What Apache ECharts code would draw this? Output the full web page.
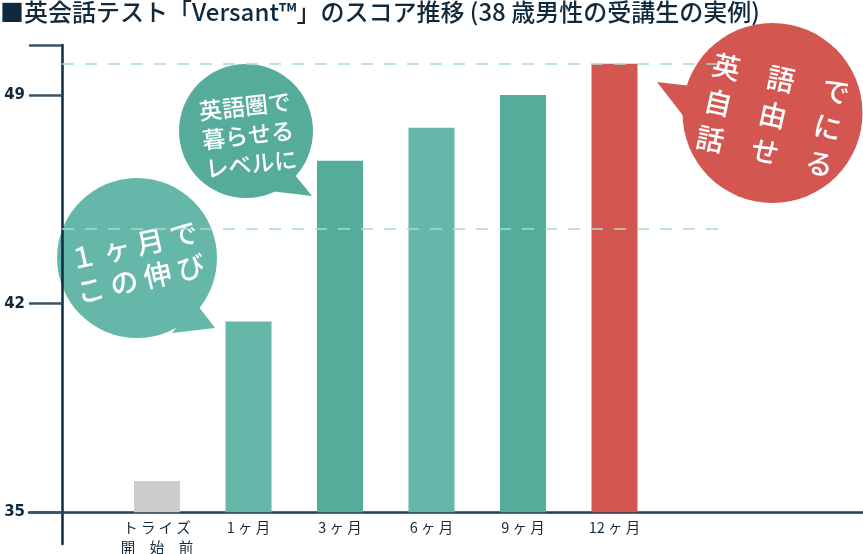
<!DOCTYPE html>
<html><head><meta charset="utf-8">
<script src="https://cdn.jsdelivr.net/npm/echarts@6/dist/echarts.min.js"></script>
<style>html,body{margin:0;padding:0;background:#fff}#c{width:863px;height:554px}</style>
</head><body><div id="c"></div>
<script>
const titleText = '■英会話テスト「Versant™」のスコア推移 (38 歳男性の受講生の実例)';
const categories = ['ト ラ イ ズ\n開　始　前', '1 ヶ 月', '3 ヶ 月', '6 ヶ 月', '9 ヶ 月', '12 ヶ 月'];
const scores = [36.05, 41.4, 46.8, 47.9, 49.0, 50.05];
const barColors = ['#cccccc', '#65b7a9', '#56ac9b', '#65b7a9', '#56ac9b', '#d45651'];
const yTicks = [35, 42, 49];
const refLines = [50.05, 44.5];
const bubble1Text = '１ ヶ 月 で\nこ の 伸 び';
const bubble2Text = '英語圏で\n暮らせる\nレベルに';
const bubble3Text = '英　語　で\n自　由　に\n話　せ　る';

const yMin = 35, yMax = 50.68, yInterval = 7;
const FONT = '"Noto Sans CJK JP", sans-serif';
const navy = '#0f2a3e';

const chart = echarts.init(document.getElementById('c'));
chart.setOption({
  animation: false,
  backgroundColor: '#fff',
  title: {
    text: titleText, left: 0, top: 0, padding: 0,
    textStyle: { fontSize: 24, color: navy, fontFamily: FONT, fontWeight: 500 }
  },
  grid: [
    { left: 111.25, right: 202.75, top: 45, bottom: 41.7, outerBoundsMode: 'none' },
    { left: 29, right: 0, top: 45, bottom: 41.7, outerBoundsMode: 'none' },
    { left: 62, right: 143, top: 45, bottom: 41.7, outerBoundsMode: 'none' },
    { left: 62, width: 10, top: 45, bottom: 10, outerBoundsMode: 'none' }
  ],
  xAxis: [
    { gridIndex: 0, type: 'category', data: categories,
      axisLine: { show: false }, axisTick: { show: false },
      axisLabel: { color: navy, fontSize: 14.5, fontFamily: FONT, margin: 5, lineHeight: 20, interval: 0 } },
    { gridIndex: 1, type: 'value', min: 0, max: 1, splitLine: { show: false },
      axisLabel: { show: false }, axisTick: { show: false },
      axisLine: { show: true, lineStyle: { color: '#233d52', width: 2.5 } } },
    { gridIndex: 2, type: 'value', min: 0, max: 1, show: false },
    { gridIndex: 3, type: 'value', min: 0, max: 1, show: false }
  ],
  yAxis: [
    { gridIndex: 0, type: 'value', min: yMin, max: yMax, interval: yInterval, offset: 49.25,
      splitLine: { show: false }, axisLine: { show: false },
      axisTick: { show: true, length: 33, lineStyle: { color: '#3a5468', width: 2.5 } },
      axisLabel: { color: navy, fontSize: 15, fontWeight: 'bold', fontFamily: 'DejaVu Sans', margin: 37,
        formatter: v => yTicks.includes(v) ? String(v) : '' } },
    { gridIndex: 1, type: 'value', min: yMin, max: yMax, show: false },
    { gridIndex: 2, type: 'value', min: yMin, max: yMax, show: false },
    { gridIndex: 3, type: 'value', min: 0, max: 1, splitLine: { show: false },
      axisLabel: { show: false }, axisTick: { show: false },
      axisLine: { show: true, lineStyle: { color: navy, width: 2.5 } } }
  ],
  series: [
    { type: 'line', xAxisIndex: 2, yAxisIndex: 2, data: [], z: 1, silent: true,
      markLine: { silent: true, symbol: 'none', label: { show: false },
        lineStyle: { color: '#a8dbd1', width: 1.5, type: [12, 11] },
        data: refLines.map(v => ({ yAxis: v })) } },
    { type: 'bar', xAxisIndex: 0, yAxisIndex: 0, barWidth: 46, z: 3,
      data: scores.map((v, i) => ({ value: v, itemStyle: { color: barColors[i] } })) }
  ],
  graphic: [
    { type: 'group', z: 100, children: [
      { type: 'circle', shape: { cx: 137, cy: 258, r: 80 }, style: { fill: '#65b7a9' } },
      { type: 'polygon', shape: { points: [[196, 303], [215, 328], [172, 333]] }, style: { fill: '#65b7a9' } },
      { type: 'text', x: 137, y: 262, rotation: 0.22,
        style: { text: bubble1Text, fill: '#fff', fontSize: 28, fontWeight: 500, fontFamily: FONT,
          align: 'center', verticalAlign: 'middle', lineHeight: 34 } }
    ]},
    { type: 'group', z: 100, children: [
      { type: 'circle', shape: { cx: 246, cy: 131, r: 67 }, style: { fill: '#56ac9b' } },
      { type: 'polygon', shape: { points: [[291, 170], [312, 196], [270, 191]] }, style: { fill: '#56ac9b' } },
      { type: 'text', x: 248, y: 135, rotation: 0.11,
        style: { text: bubble2Text, fill: '#fff', fontSize: 23, fontWeight: 500, fontFamily: FONT,
          align: 'center', verticalAlign: 'middle', lineHeight: 29 } }
    ]},
    { type: 'group', z: 100, children: [
      { type: 'circle', shape: { cx: 772.5, cy: 113, r: 90 }, style: { fill: '#d45651' } },
      { type: 'polygon', shape: { points: [[692, 86], [657, 82], [688, 122]] }, style: { fill: '#d45651' } },
      { type: 'text', x: 773, y: 115, rotation: -0.22,
        style: { text: bubble3Text, fill: '#fff', fontSize: 28, fontWeight: 500, fontFamily: FONT,
          align: 'center', verticalAlign: 'middle', lineHeight: 37 } }
    ]}
  ]
});
</script></body></html>
